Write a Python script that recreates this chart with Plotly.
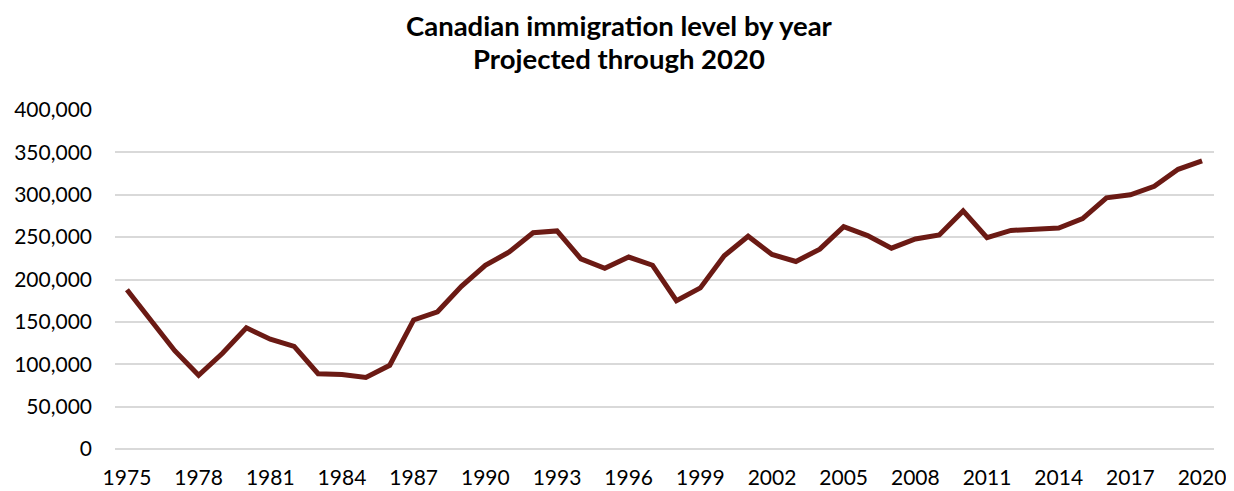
import plotly.graph_objects as go

years = [str(y) for y in range(1975, 2021)]
immigrants = [
    188000, 151000, 116000, 87000, 113000, 143000, 129500, 121000, 88800, 88000,
    84500, 98800, 152300, 161900, 192000, 216800, 232500, 255200, 257300, 224400,
    213200, 226500, 216800, 175000, 190100, 227900, 251000, 229500, 221300, 235800,
    262400, 251800, 237000, 247800, 252500, 280900, 249500, 257900, 259000, 260700,
    271900, 296300, 300000, 310000, 330000, 340000,
]
tick_years = years[::3]

title_lines = ["Canadian immigration level by year", "Projected through 2020"]

fig = go.Figure()
fig.add_trace(go.Scatter(
    x=years,
    y=immigrants,
    mode="lines",
    line=dict(color="#6B1A14", width=5),
    showlegend=False,
))

for i, text in enumerate(title_lines):
    fig.add_annotation(
        text="<b>%s</b>" % text,
        xref="paper", yref="paper",
        x=0.4586, y=1,
        xanchor="center", yanchor="middle",
        yshift=85 - i * 33,
        showarrow=False,
        font=dict(size=27.5, color="#000000"),
    )

# the page puts the figure 8px in from the top-left corner
fig.update_layout(
    width=1226,
    height=483,
    margin=dict(l=107, r=20, t=102, b=42),
    plot_bgcolor="white",
    paper_bgcolor="white",
    font=dict(family="Lato", size=21, color="#000000"),
)
fig.update_xaxes(
    type="category",
    range=[-0.5, len(years) - 0.5],
    tickmode="array",
    tickvals=tick_years,
    ticktext=tick_years,
    showgrid=False,
    showline=False,
    ticks="",
    ticklabelstandoff=14,
    automargin=False,
)
fig.update_yaxes(
    range=[0, 400000],
    tickvals=list(range(0, 400001, 50000)),
    tickformat=",",
    gridcolor="#D9D9D9",
    gridwidth=1.5,
    zeroline=True,
    zerolinecolor="#D9D9D9",
    zerolinewidth=1.5,
    ticks="",
    ticklabelstandoff=22,
    automargin=False,
)

fig.write_html("out.html")
